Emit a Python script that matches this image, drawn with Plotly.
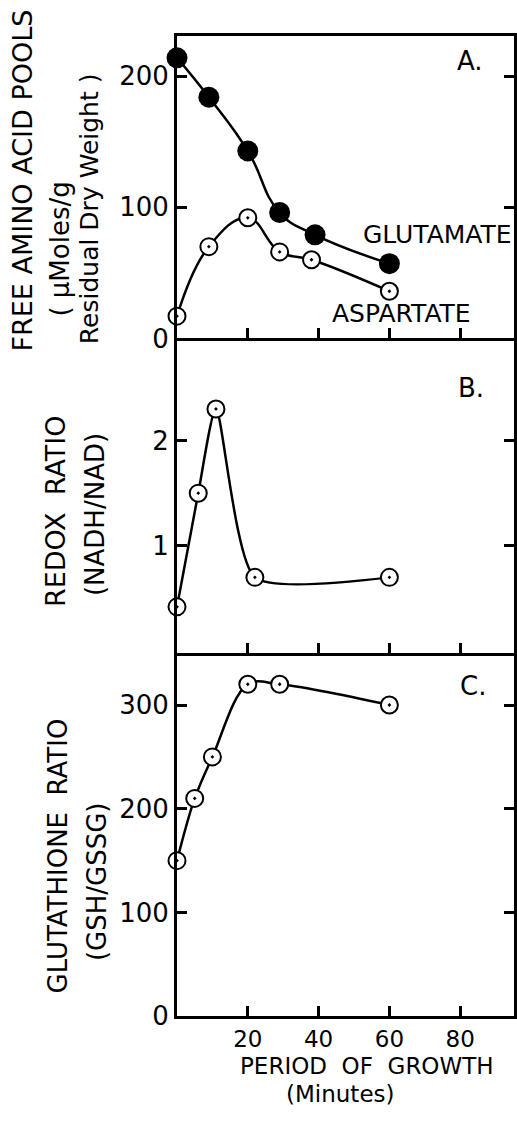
import plotly.graph_objects as go

# ---------------- data ----------------
glu_x = [0, 9, 20, 29, 39, 60]
glu_y = [214, 184, 143, 96, 79, 57]
asp_x = [0, 9, 20, 29, 38, 60]
asp_y = [17, 70, 92, 66, 60, 36]

redox_x = [0, 6, 11, 22, 60]
redox_y = [0.42, 1.5, 2.3, 0.7, 0.7]

gsh_x = [0, 5, 10, 20, 29, 60]
gsh_y = [150, 210, 250, 320, 320, 300]

x_ticks = [20, 40, 60, 80]
a_ticks = [0, 100, 200]
b_ticks = [1, 2]
c_ticks = [0, 100, 200, 300]

FONT = "DejaVu Sans"
W, H = 517, 1124


def px(x):
    return x / W


def py(y):
    return 1 - y / H


fig = go.Figure()

open_marker = dict(symbol="circle-dot", size=17, color="white",
                   line=dict(color="black", width=2))

fig.add_trace(go.Scatter(x=glu_x, y=glu_y, mode="lines+markers",
                         line=dict(color="black", width=2.5, shape="spline", smoothing=1.3),
                         marker=dict(symbol="circle", size=21, color="black"),
                         cliponaxis=False, xaxis="x", yaxis="y", showlegend=False))
fig.add_trace(go.Scatter(x=asp_x, y=asp_y, mode="lines+markers",
                         line=dict(color="black", width=2.5, shape="spline", smoothing=1.2),
                         marker=open_marker,
                         cliponaxis=False, xaxis="x", yaxis="y", showlegend=False))
fig.add_trace(go.Scatter(x=redox_x, y=redox_y, mode="lines+markers",
                         line=dict(color="black", width=2.5, shape="spline", smoothing=0.6),
                         marker=open_marker,
                         cliponaxis=False, xaxis="x2", yaxis="y2", showlegend=False))
fig.add_trace(go.Scatter(x=gsh_x, y=gsh_y, mode="lines+markers",
                         line=dict(color="black", width=2.5, shape="spline", smoothing=1.0),
                         marker=open_marker,
                         cliponaxis=False, xaxis="x3", yaxis="y3", showlegend=False))

xdom = [px(177), px(514)]
xrange = [0, 95.2]

common_x = dict(domain=xdom, range=xrange, tickvals=x_ticks, ticks="inside",
                ticklen=10, tickwidth=2.5, tickcolor="black", showline=True,
                linecolor="black", linewidth=3, showgrid=False,
                zeroline=False, tickfont=dict(family=FONT, size=23, color="black"))
common_y = dict(ticks="inside", ticklen=10, tickwidth=2.5, tickcolor="black",
                showline=True, linecolor="black", linewidth=3, mirror="ticks",
                showgrid=False, zeroline=False,
                tickfont=dict(family=FONT, size=26, color="black"),
                ticklabelstandoff=0)

fig.update_layout(
    width=W, height=H,
    margin=dict(l=0, r=0, t=0, b=0),
    paper_bgcolor="white", plot_bgcolor="white",
    font=dict(family=FONT, color="black"),
    xaxis=dict(common_x, anchor="y", showticklabels=False, mirror=True),
    xaxis2=dict(common_x, anchor="y2", showticklabels=False, matches="x", mirror=False),
    xaxis3=dict(common_x, anchor="y3", showticklabels=True, matches="x", mirror=False,
                ticklabelstandoff=0),
    yaxis=dict(common_y, domain=[py(343), py(36)], range=[0, 231],
               tickvals=a_ticks, anchor="x"),
    yaxis2=dict(common_y, domain=[py(662), py(343)], range=[-0.02, 2.97],
                tickvals=b_ticks, anchor="x2"),
    yaxis3=dict(common_y, domain=[py(1030), py(662)], range=[0, 350],
                tickvals=c_ticks, anchor="x3"),
)

ann = []


def vtext(text, xc, yc, size):
    ann.append(dict(text=text, x=px(xc), y=py(yc), xref="paper", yref="paper",
                    xanchor="center", yanchor="middle", textangle=-90,
                    showarrow=False, font=dict(family=FONT, size=size, color="black")))


def htext(text, xc, yc, size):
    ann.append(dict(text=text, x=px(xc), y=py(yc), xref="paper", yref="paper",
                    xanchor="center", yanchor="middle", borderpad=0,
                    showarrow=False, font=dict(family=FONT, size=size, color="black")))


vtext("FREE AMINO ACID POOLS", 23, 183, 27)
vtext("( μMoles/g", 60, 253, 26)
vtext("Residual Dry Weight )", 89, 212, 25)
vtext("REDOX  RATIO", 55, 518, 27)
vtext("(NADH/NAD)", 95, 522, 26)
vtext("GLUTATHIONE  RATIO", 58, 868, 26)
vtext("(GSH/GSSG)", 97, 894, 26)

htext("A.", 470, 62, 26)
htext("B.", 471, 393, 26)
htext("C.", 473, 695, 26)
htext("GLUTAMATE", 437, 238, 25)
htext("ASPARTATE", 401, 318, 25)
htext("PERIOD  OF  GROWTH", 367, 1080, 23)
htext("(Minutes)", 340, 1109, 23)

fig.update_layout(annotations=ann)

fig.write_html("out.html",
               config={"displayModeBar": False},
               post_script="document.body.style.margin='0';"
                           "document.body.style.overflow='hidden';")
